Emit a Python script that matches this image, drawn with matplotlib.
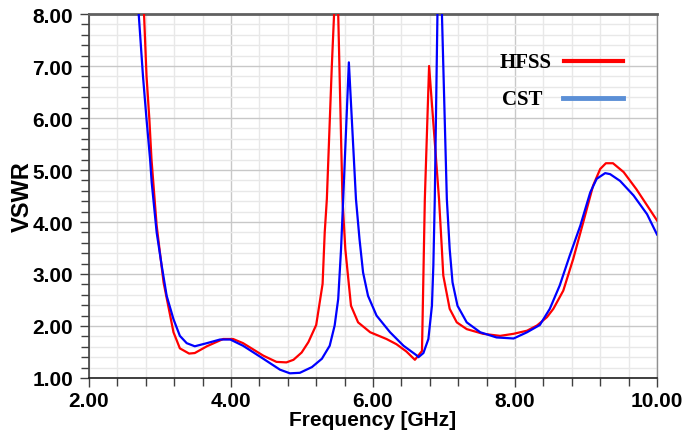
import matplotlib
matplotlib.use("Agg")
import matplotlib.pyplot as plt
from matplotlib.ticker import MultipleLocator, FormatStrFormatter
from matplotlib.lines import Line2D

# ---- data ----
hfss_freq = [2.74, 2.775, 2.81, 2.85, 2.88, 2.953, 3.05, 3.19, 3.28, 3.41, 3.49, 3.66,
             3.89, 4.03, 4.17, 4.455, 4.64, 4.78, 4.88, 4.995, 5.09, 5.20, 5.29, 5.32,
             5.35, 5.42, 5.49, 5.51, 5.57, 5.61, 5.69, 5.79, 5.96, 6.19, 6.33, 6.47,
             6.59, 6.69, 6.73, 6.79, 6.93, 6.97, 6.99, 7.08, 7.18, 7.32, 7.55, 7.79,
             7.98, 8.17, 8.31, 8.45, 8.54, 8.68, 8.82, 8.96, 9.10, 9.20, 9.28, 9.38,
             9.53, 9.71, 10.0]
hfss_vswr = [8.7, 8.0, 6.81, 5.98, 5.21, 3.93, 2.84, 1.88, 1.57, 1.47, 1.48, 1.61,
             1.75, 1.75, 1.67, 1.43, 1.31, 1.30, 1.35, 1.49, 1.69, 2.02, 2.81, 3.80,
             4.44, 7.0, 9.2, 8.0, 4.44, 3.48, 2.39, 2.07, 1.88, 1.75, 1.65, 1.51,
             1.35, 1.52, 4.44, 7.0, 4.44, 3.48, 2.97, 2.33, 2.07, 1.94, 1.85, 1.81,
             1.85, 1.91, 2.01, 2.17, 2.33, 2.68, 3.29, 3.99, 4.70, 5.02, 5.13, 5.13,
             4.96, 4.63, 4.03]

cst_freq = [2.66, 2.70, 2.76, 2.81, 2.86, 2.883, 2.953, 3.024, 3.094, 3.19, 3.28, 3.376,
            3.49, 3.66, 3.845, 3.99, 4.17, 4.455, 4.69, 4.83, 4.97, 5.14, 5.28, 5.39,
            5.46, 5.51, 5.55, 5.58, 5.66, 5.76, 5.81, 5.86, 5.93, 6.05, 6.24, 6.43,
            6.62, 6.64, 6.71, 6.78, 6.83, 6.85, 6.87, 6.93, 7.04, 7.08, 7.12, 7.19,
            7.32, 7.51, 7.74, 7.98, 8.17, 8.35, 8.49, 8.63, 8.77, 8.92, 9.06, 9.15,
            9.27, 9.34, 9.48, 9.67, 9.86, 10.0]
cst_vswr = [8.8, 8.0, 6.81, 5.98, 5.21, 4.76, 3.80, 3.16, 2.58, 2.13, 1.81, 1.67,
            1.61, 1.67, 1.74, 1.74, 1.62, 1.37, 1.16, 1.09, 1.10, 1.21, 1.37, 1.62,
            2.01, 2.52, 3.48, 4.44, 7.07, 4.44, 3.67, 3.03, 2.58, 2.20, 1.88, 1.62,
            1.43, 1.40, 1.48, 1.75, 2.39, 3.16, 4.44, 10.1, 4.44, 3.48, 2.84, 2.39,
            2.07, 1.88, 1.78, 1.76, 1.88, 2.02, 2.33, 2.78, 3.35, 3.93, 4.57, 4.83,
            4.94, 4.92, 4.79, 4.51, 4.15, 3.76]

series_names = ["HFSS", "CST"]
x_label = "Frequency [GHz]"
y_label = "VSWR"

W, H = 697, 439
fig = plt.figure(figsize=(W / 100, H / 100), dpi=100)
ax = fig.add_axes([89 / W, 1 - 379 / H, (657 - 89) / W, (379 - 15) / H])

ax.plot(hfss_freq, hfss_vswr, color="#ff0000", lw=1.6, zorder=3)
ax.plot(cst_freq, cst_vswr, color="#0000ff", lw=1.6, zorder=3)

ax.set_xlim(2, 10)
ax.set_ylim(1, 8)
ax.xaxis.set_major_locator(MultipleLocator(2))
ax.xaxis.set_minor_locator(MultipleLocator(0.4))
ax.yaxis.set_major_locator(MultipleLocator(1))
ax.yaxis.set_minor_locator(MultipleLocator(0.2))
ax.xaxis.set_major_formatter(FormatStrFormatter("%.2f"))
ax.yaxis.set_major_formatter(FormatStrFormatter("%.2f"))

ax.grid(which="major", color="#c8c8c8", lw=1.0, zorder=0)
ax.grid(which="minor", color="#e8e8e8", lw=1.0, zorder=0)
ax.set_axisbelow(True)

fam = ["Liberation Sans", "DejaVu Sans"]
ax.tick_params(which="both", direction="out", color="#404040", width=1.0)
ax.tick_params(which="major", length=6.5)
ax.tick_params(which="minor", length=5.5)
ax.tick_params(axis="y", pad=5)
ax.tick_params(axis="x", pad=3)
for lab in ax.get_xticklabels() + ax.get_yticklabels():
    lab.set_fontfamily(fam)
    lab.set_fontweight("bold")
    lab.set_fontsize(15)

ax.set_xlabel(x_label, fontfamily=fam, fontweight="bold", fontsize=15, labelpad=0)
ax.set_ylabel(y_label, fontfamily=fam, fontweight="bold", fontsize=17, labelpad=-1)

ax.spines["top"].set_color("#606060")
ax.spines["top"].set_linewidth(2.0)
ax.spines["right"].set_color("#909090")
ax.spines["right"].set_linewidth(1.0)
ax.spines["left"].set_color("#404040")
ax.spines["left"].set_linewidth(1.2)
ax.spines["bottom"].set_color("#202020")
ax.spines["bottom"].set_linewidth(1.2)

# legend (manual, as in reference)
leg_font = dict(family=["Liberation Serif", "DejaVu Serif"], weight="bold", size=15)
fig.text(526 / W, 1 - 63 / H, series_names[0], ha="center", va="center", **leg_font)
fig.text(522 / W, 1 - 100 / H, series_names[1], ha="center", va="center", **leg_font)
fig.add_artist(Line2D([564 / W, 623 / W], [1 - 62 / H, 1 - 62 / H], color="#ff0000", lw=3.0))
fig.add_artist(Line2D([563 / W, 623 / W], [1 - 98.5 / H, 1 - 98.5 / H], color="#5b8fd6", lw=3.5))

fig.savefig("out.png", dpi=100)
